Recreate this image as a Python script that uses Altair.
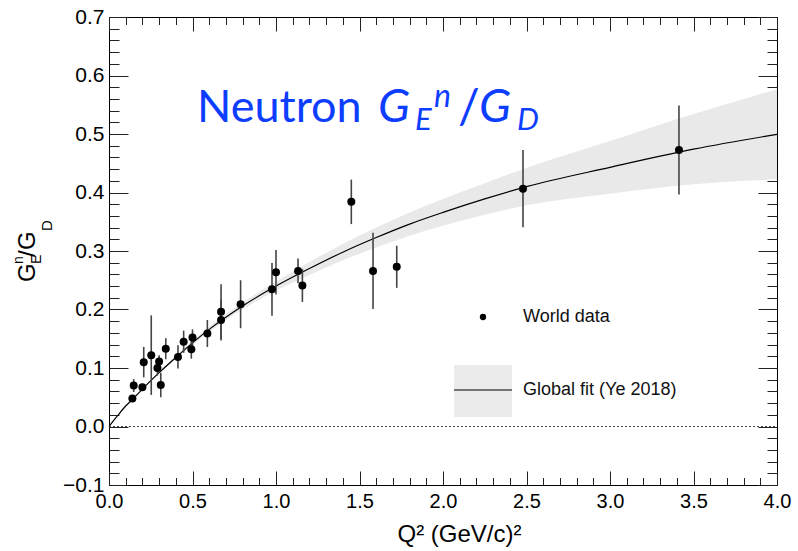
import altair as alt
import pandas as pd

# World data: Q^2 in (GeV/c)^2, G_E^n/G_D and its uncertainty
q2 = [0.14, 0.148, 0.20, 0.208, 0.253, 0.29, 0.30, 0.31, 0.34, 0.413, 0.447, 0.493, 0.50,
      0.589, 0.671, 0.671, 0.788, 0.976, 1.00, 1.132, 1.158, 1.451, 1.581, 1.723, 2.479, 3.413]
ratio = [0.048, 0.070, 0.067, 0.110, 0.122, 0.100, 0.111, 0.071, 0.133, 0.119, 0.145, 0.132, 0.152,
         0.159, 0.196, 0.182, 0.209, 0.2345, 0.2636, 0.266, 0.241, 0.384, 0.266, 0.273, 0.4065, 0.4726]
ratio_err = [0.006, 0.011, 0.006, 0.026, 0.068, 0.013, 0.011, 0.021, 0.018, 0.020, 0.019, 0.016, 0.014,
             0.023, 0.047, 0.035, 0.041, 0.045, 0.038, 0.021, 0.028, 0.038, 0.065, 0.036, 0.066, 0.076]

# Global fit (Ye 2018) with its uncertainty band
fit_q2 = [0.0, 0.05, 0.1, 0.15, 0.2, 0.3, 0.4, 0.5, 0.6, 0.8, 1.0, 1.2, 1.4, 1.6, 1.8, 2.0,
          2.25, 2.5, 3.0, 3.5, 4.0]
fit_val = [0.0, 0.018, 0.035, 0.049, 0.064, 0.092, 0.118, 0.143, 0.166, 0.206, 0.240, 0.270,
           0.298, 0.323, 0.346, 0.366, 0.389, 0.410, 0.443, 0.474, 0.4995]
fit_err = [0.0, 0.0005, 0.001, 0.0012, 0.0015, 0.002, 0.003, 0.0035, 0.0045, 0.006, 0.008, 0.011,
           0.014, 0.017, 0.020, 0.023, 0.027, 0.032, 0.045, 0.060, 0.077]

# Axis ticks
x_major = [0.0, 0.5, 1.0, 1.5, 2.0, 2.5, 3.0, 3.5, 4.0]
x_minor = [round(0.1 * i, 2) for i in range(41)]
y_major = [-0.1, 0.0, 0.1, 0.2, 0.3, 0.4, 0.5, 0.6, 0.7]
y_minor = [round(-0.1 + 0.02 * i, 2) for i in range(41)]

legend_labels = ["World data", "Global fit (Ye 2018)"]
x_title = "Q² (GeV/c)²"

W, H = 668, 468
FONT = "Liberation Sans"
BLUE = "#0d3dff"

pts = pd.DataFrame({"q2": q2, "ratio": ratio, "err": ratio_err})
pts["lo"] = pts["ratio"] - pts["err"]
pts["hi"] = pts["ratio"] + pts["err"]

fit = pd.DataFrame({"q2": fit_q2, "fit": fit_val, "err": fit_err})
fit["lo"] = fit["fit"] - fit["err"]
fit["hi"] = fit["fit"] + fit["err"]

zero_df = pd.DataFrame({"x0": [0.0], "x1": [4.0], "zero": [0.0]})

xs = alt.Scale(domain=[0, 4], nice=False, zero=False)
ys = alt.Scale(domain=[-0.1, 0.7], nice=False, zero=False)


def tick_axis(orient, offset, values, size):
    # inward-pointing ticks: an axis of the opposite side shifted onto this edge
    return alt.Axis(orient=orient, offset=offset, values=values, tickSize=size, ticks=True,
                    labels=False, domain=False, grid=False, tickColor="#222", tickWidth=1,
                    title=None)


label_x = alt.Axis(orient="bottom", values=x_major, format=".1f", labelFont=FONT, labelFontSize=20,
                   labelColor="black", labelFlush=False, labelOverlap=False,
                   labelBaseline="alphabetic", labelPadding=22, ticks=False, tickSize=0,
                   domain=False, grid=False, title=x_title, titleFont=FONT, titleFontSize=24,
                   titleFontWeight="normal", titleColor="black", titleX=350, titleY=56,
                   titleAlign="center", titleBaseline="alphabetic")
label_y = alt.Axis(orient="left", values=y_major, format=".1f", labelFont=FONT, labelFontSize=21,
                   labelColor="black", labelFlush=False, labelOverlap=False,
                   labelBaseline="middle", labelPadding=5, ticks=False, tickSize=0,
                   domain=False, grid=False, title=None)

band = alt.Chart(fit).mark_area(color="#e9e9e9", interpolate="monotone").encode(
    x=alt.X("q2:Q", scale=xs, axis=label_x),
    y=alt.Y("lo:Q", scale=ys, axis=label_y),
    y2="hi:Q",
)

zero_line = alt.Chart(zero_df).mark_rule(color="#444", strokeWidth=1, strokeDash=[2, 2]).encode(
    x=alt.X("x0:Q", scale=xs, axis=tick_axis("top", -H, x_minor, 7.5)),
    x2="x1:Q",
    y=alt.Y("zero:Q", scale=ys, axis=tick_axis("right", -W, y_minor, 10)),
)

fit_line = alt.Chart(fit).mark_line(color="black", strokeWidth=1.2, interpolate="monotone").encode(
    x=alt.X("q2:Q", scale=xs, axis=tick_axis("top", -H, x_major, 14)),
    y=alt.Y("fit:Q", scale=ys, axis=tick_axis("right", -W, y_major, 19)),
)

bars = alt.Chart(pts).mark_rule(color="#444", strokeWidth=1.6).encode(
    x=alt.X("q2:Q", scale=xs, axis=tick_axis("bottom", -H, x_major, 14)),
    y=alt.Y("lo:Q", scale=ys, axis=tick_axis("left", -W, y_major, 19)),
    y2="hi:Q",
)

dots = alt.Chart(pts).mark_circle(size=64, color="black", opacity=1).encode(
    x=alt.X("q2:Q", scale=xs, axis=tick_axis("bottom", -H, x_minor, 7.5)),
    y=alt.Y("ratio:Q", scale=ys, axis=tick_axis("left", -W, y_minor, 10)),
)


def text_piece(text, x, y, size, color="black", style="normal", angle=0, font=FONT):
    mark = alt.Chart(pd.DataFrame({"t": [text]})).mark_text(
        align="left", baseline="alphabetic", font=font, fontSize=size, fontStyle=style,
        color=color, angle=angle)
    return mark.encode(text="t:N", x=alt.value(x), y=alt.value(y))


one = pd.DataFrame({"k": [0]})

# Legend
leg_dot = alt.Chart(one).mark_circle(size=40, color="black", opacity=1).encode(
    x=alt.value(374), y=alt.value(300))
leg_box = alt.Chart(one).mark_rect(color="#ebebeb").encode(
    x=alt.value(345), x2=alt.value(403), y=alt.value(348), y2=alt.value(400))
leg_line = alt.Chart(one).mark_rule(color="black", strokeWidth=1.2).encode(
    x=alt.value(345), x2=alt.value(403), y=alt.value(373))
leg_text = [
    alt.Chart(pd.DataFrame({"t": [legend_labels[0]]})).mark_text(
        align="left", baseline="middle", font=FONT, fontSize=18, color="#111").encode(
        text="t:N", x=alt.value(414), y=alt.value(300)),
    alt.Chart(pd.DataFrame({"t": [legend_labels[1]]})).mark_text(
        align="left", baseline="middle", font=FONT, fontSize=18, color="#111").encode(
        text="t:N", x=alt.value(414), y=alt.value(373)),
]

# In-plot heading: Neutron G_E^n / G_D
heading = [
    text_piece("Neutron", 88, 105, 45, BLUE, font="Lato"),
    text_piece("G", 269, 105, 47, BLUE, "italic", font="Lato"),
    text_piece("E", 306, 113, 31, BLUE, "italic", font="Lato"),
    text_piece("n", 325, 90, 32, BLUE, "italic", font="Lato"),
    text_piece("/", 349, 107, 48, BLUE, font="Lato"),
    text_piece("G", 370, 105, 47, BLUE, "italic", font="Lato"),
    text_piece("D", 408, 113, 31, BLUE, "italic", font="Lato"),
]

# Vertical axis title: G_E^n / G_D, reading bottom to top
y_title = [
    text_piece("G", -74, 265, 24, angle=270),
    text_piece("E", -68, 247, 14, angle=270),
    text_piece("n", -86, 247, 14, angle=270),
    text_piece("/", -74, 240, 24, angle=270),
    text_piece("G", -74, 233, 24, angle=270),
    text_piece("D", -57, 214, 15, angle=270),
]

chart = alt.layer(
    band, zero_line, fit_line, bars, dots,
    leg_box, leg_line, leg_dot, *leg_text, *heading, *y_title,
).resolve_axis(
    x="independent", y="independent"
).properties(
    width=W, height=H,
    autosize=alt.AutoSizeParams(type="none"),
    padding={"left": 109, "top": 17, "right": 21, "bottom": 66},
    background="white",
).configure_view(
    stroke="black", strokeWidth=1
)

chart.save("out.html", embed_options={"renderer": "svg", "actions": False})
